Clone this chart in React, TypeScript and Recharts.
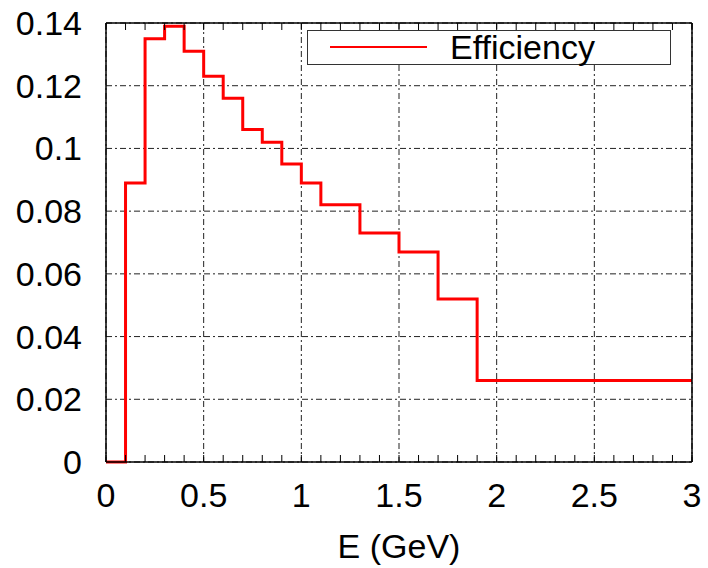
import { LineChart, Line, XAxis, YAxis, CartesianGrid } from 'recharts';

// histogram bin edges (GeV) and efficiency in each bin (last edge closes the final bin)
const binEdges = [0, 0.1, 0.2, 0.3, 0.4, 0.5, 0.6, 0.7, 0.8, 0.9, 1.0, 1.1, 1.3, 1.5, 1.7, 1.9, 3.0];
const efficiency = [0, 0.089, 0.135, 0.139, 0.131, 0.123, 0.116, 0.106, 0.102, 0.095, 0.089, 0.082, 0.073, 0.067, 0.052, 0.026, 0.026];

const xTicks = [0, 0.5, 1, 1.5, 2, 2.5, 3];
const xMinorTicks = [0, 0.1, 0.2, 0.3, 0.4, 0.5, 0.6, 0.7, 0.8, 0.9, 1, 1.1, 1.2, 1.3, 1.4, 1.5, 1.6, 1.7, 1.8, 1.9, 2, 2.1, 2.2, 2.3, 2.4, 2.5, 2.6, 2.7, 2.8, 2.9, 3];
const yTicks = [0, 0.02, 0.04, 0.06, 0.08, 0.1, 0.12, 0.14];

const data = binEdges.map((e, i) => ({ e, eff: efficiency[i] }));

const FONT = '"Liberation Sans", Arial, sans-serif';
const tickStyle = { fontSize: 34, fill: '#000', fontFamily: FONT };

function LegendBox() {
  return (
    <div style={{ position: 'absolute', left: 307, top: 30, width: 362, height: 33, border: '1.5px solid #333', background: '#fff' }}>
      <div style={{ position: 'absolute', left: 22, top: 15, width: 97, height: 2, background: '#ff0000' }} />
      <div style={{ position: 'absolute', left: 142, top: -4, fontSize: 34, fontFamily: FONT, color: '#000', lineHeight: '40px' }}>
        Efficiency
      </div>
    </div>
  );
}

export default function App() {
  return (
    <div style={{ position: 'absolute', left: 0, top: 0, width: 708, height: 568, background: '#fff' }}>
      <LineChart width={708} height={568} data={data} margin={{ top: 23, right: 16, bottom: 0, left: 0 }}>
        <CartesianGrid stroke="#222" strokeDasharray="6 3 2 3" strokeWidth={1} />
        <XAxis
          type="number"
          dataKey="e"
          domain={[0, 3]}
          ticks={xTicks}
          tickLine={false}
          tickSize={0}
          tickMargin={21}
          height={106}
          tick={tickStyle}
          axisLine={{ stroke: '#000', strokeWidth: 1.5 }}
          label={{ value: 'E (GeV)', position: 'insideBottom', offset: 10, style: { fontSize: 34, fill: '#000', fontFamily: FONT } }}
        />
        <XAxis
          xAxisId="minor"
          type="number"
          dataKey="e"
          domain={[0, 3]}
          ticks={xMinorTicks}
          mirror
          tickSize={7}
          tickFormatter={() => ''}
          axisLine={false}
          tickLine={{ stroke: '#000' }}
        />
        <XAxis
          xAxisId="top"
          orientation="top"
          type="number"
          dataKey="e"
          domain={[0, 3]}
          ticks={xMinorTicks}
          mirror
          tickSize={7}
          tickFormatter={() => ''}
          axisLine={{ stroke: '#000', strokeWidth: 1.5 }}
          tickLine={{ stroke: '#000' }}
        />
        <YAxis
          type="number"
          domain={[0, 0.14]}
          ticks={yTicks}
          width={106}
          tickLine={false}
          tickSize={0}
          tickMargin={24}
          tick={tickStyle}
          axisLine={{ stroke: '#000', strokeWidth: 1.5 }}
        />
        <YAxis
          yAxisId="right"
          orientation="right"
          type="number"
          domain={[0, 0.14]}
          ticks={yTicks}
          mirror
          tickSize={7}
          tickFormatter={() => ''}
          axisLine={{ stroke: '#000', strokeWidth: 1.5 }}
          tickLine={{ stroke: '#000' }}
        />
        <Line
          type="stepAfter"
          dataKey="eff"
          stroke="#ff0000"
          strokeWidth={3}
          dot={false}
          isAnimationActive={false}
        />
      </LineChart>
      <LegendBox />
    </div>
  );
}
